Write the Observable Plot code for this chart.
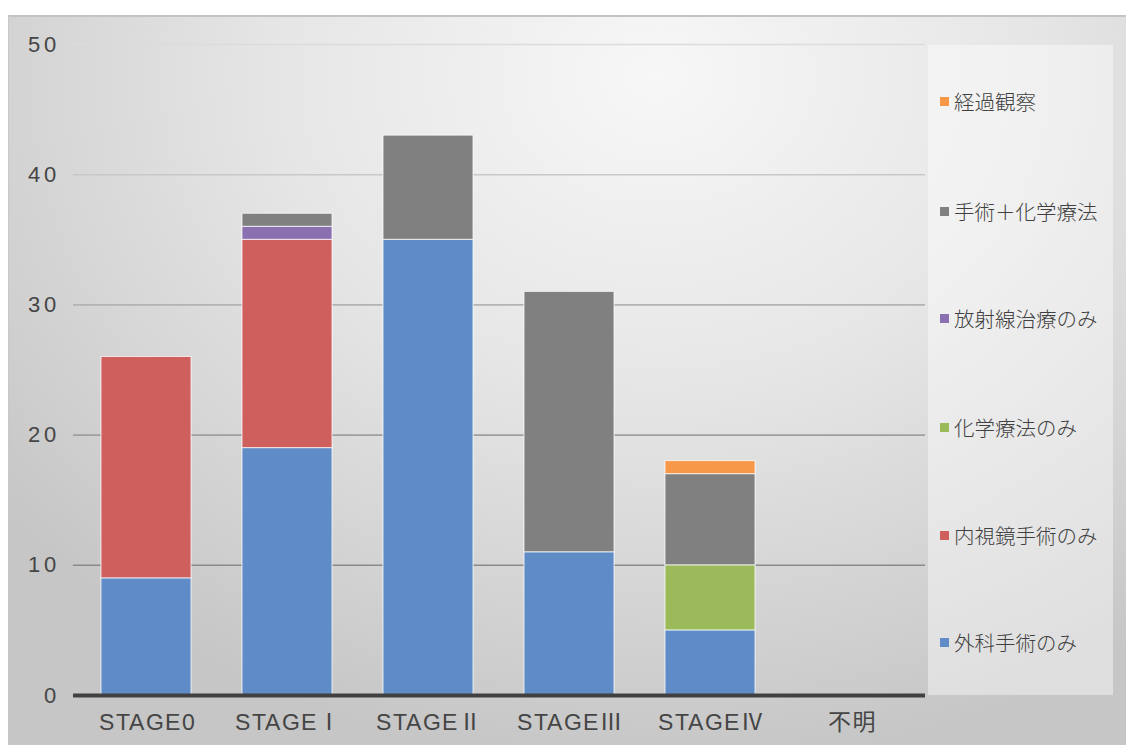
<!DOCTYPE html>
<html><head><meta charset="utf-8">
<script src="https://cdn.jsdelivr.net/npm/d3@7"></script>
<script src="https://cdn.jsdelivr.net/npm/@observablehq/plot@0.6"></script>
<style>
@font-face{font-family:"LatinAxis";src:local("Liberation Sans");unicode-range:U+0000-00FF;}
html,body{margin:0;padding:0;background:#fff;}
#wrap{position:relative;width:1126px;height:745px;overflow:hidden;font-family:"Noto Sans CJK JP","Noto Sans",sans-serif;}
#bg{position:absolute;left:8px;top:15px;right:0;bottom:0;border-top:2px solid #c4c4c4;border-left:1px solid #c8c8c8;
background:radial-gradient(ellipse 75% 95% at 58% 8%, #f7f7f7 0%, #e6e6e6 45%, #d2d2d2 80%, #c6c6c6 100%);}
#legbox{position:absolute;left:928px;top:45px;width:185px;height:650px;background:rgba(255,255,255,0.42);}
#chart{position:absolute;left:0;top:0;}
#chart svg g[aria-label$="tick label"] text{font-family:"LatinAxis","Noto Sans CJK JP",sans-serif;}
.leg{position:absolute;left:940px;height:24px;display:flex;align-items:center;font-size:20.5px;font-weight:300;color:#404040;white-space:nowrap;}
.leg i{display:inline-block;width:9px;height:9px;margin-right:5px;}
</style></head><body>
<div id="wrap"><div id="bg"></div><div id="legbox"></div><div id="chart"></div></div>
<script>
const categories = ["STAGE0","STAGEⅠ","STAGEⅡ","STAGEⅢ","STAGEⅣ","不明"];
const series = ["外科手術のみ","内視鏡手術のみ","化学療法のみ","放射線治療のみ","手術＋化学療法","経過観察"];
const surgeryOnly   = [9, 19, 35, 11, 5, 0];
const endoscopyOnly = [17, 16, 0, 0, 0, 0];
const chemoOnly     = [0, 0, 0, 0, 5, 0];
const radiationOnly = [0, 1, 0, 0, 0, 0];
const surgeryChemo  = [0, 1, 8, 20, 7, 0];
const observation   = [0, 0, 0, 0, 1, 0];
const colors = ["#5f8cc7","#cf5f5c","#9bbb5a","#8a6fb1","#808080","#f79748"];
const yTicks = [0, 10, 20, 30, 40, 50];
const legendY = [642, 535, 427, 318, 211, 101];

const seriesValues = [surgeryOnly, endoscopyOnly, chemoOnly, radiationOnly, surgeryChemo, observation];
const table = [];
series.forEach((s, i) => categories.forEach((c, j) => table.push({stage: c, treatment: s, value: seriesValues[i][j]})));

const gridColor = d3.scaleLinear().domain([10, 50]).range(["#8a8a8a", "#dcdcdc"]);

const chart = Plot.plot({
  width: 1126, height: 745,
  marginTop: 44, marginBottom: 50, marginLeft: 73, marginRight: 201,
  style: {background: "transparent", fontFamily: "'Noto Sans CJK JP', sans-serif", color: "#404040"},
  x: {domain: categories, paddingInner: 0.36, paddingOuter: 0.19, label: null},
  y: {domain: [0, 50], label: null},
  color: {domain: series, range: colors},
  marks: [
    Plot.ruleY(yTicks.filter(d => d > 0), {stroke: d => gridColor(d), strokeWidth: 1.6}),
    Plot.barY(table.filter(d => d.value > 0), {x: "stage", y: "value", fill: "treatment", stroke: "#ffffff", strokeOpacity: 0.75, strokeWidth: 1}),
    Plot.ruleY([0], {stroke: "#404040", strokeWidth: 4}),
    Plot.axisY({ticks: yTicks, tickSize: 0, tickPadding: 14, fontSize: 22, fill: "#454545"}),
    Plot.axisX({tickSize: 0, tickPadding: 18, fontSize: 23, fill: "#454545"})
  ]
});
document.getElementById("chart").appendChild(chart);
d3.select(chart).selectAll('g[aria-label="y-axis tick label"] text').style("letter-spacing", "4px");
d3.select(chart).selectAll('g[aria-label="x-axis tick label"] text').style("letter-spacing", "1.5px").attr("dx", "1px");

const wrap = document.getElementById("wrap");
series.forEach((s, i) => {
  const d = document.createElement("div");
  d.className = "leg";
  d.style.top = (legendY[i] - 12) + "px";
  d.innerHTML = `<i style="background:${colors[i]}"></i>${s}`;
  wrap.appendChild(d);
});
</script>
</body></html>
